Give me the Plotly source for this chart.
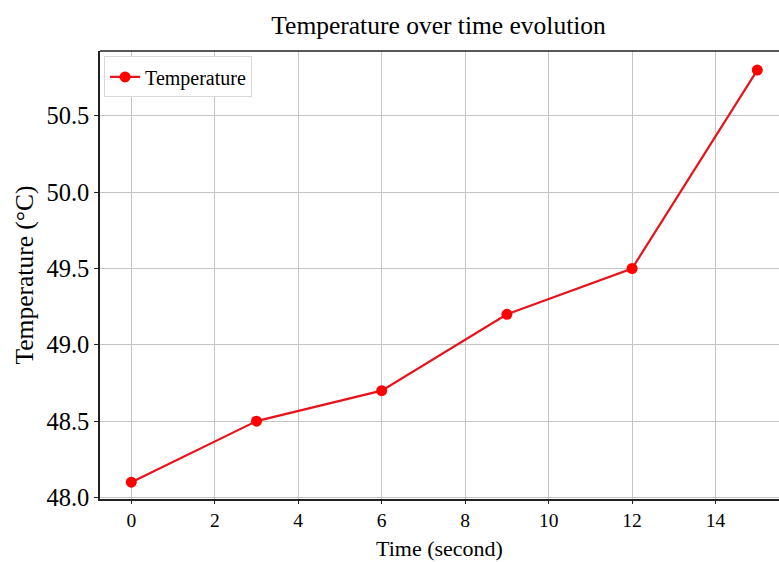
import plotly.graph_objects as go

time_s = [0, 3, 6, 9, 12, 15]
temperature = [48.1, 48.5, 48.7, 49.2, 49.5, 50.8]
x_ticks = [0, 2, 4, 6, 8, 10, 12, 14]
y_ticks = [48.0, 48.5, 49.0, 49.5, 50.0, 50.5]

font_family = "Liberation Serif, Times New Roman, serif"

H = 562
T, B = 51, 63
plot_h = H - T - B

fig = go.Figure()
fig.add_trace(go.Scatter(
    x=time_s, y=temperature, mode="lines+markers", name="Temperature",
    line=dict(color="#e8131a", width=2.2),
    marker=dict(color="#ff0000", size=11),
))

fig.update_layout(
    width=779, height=H,
    margin=dict(l=100, r=0, t=T, b=B),
    paper_bgcolor="white", plot_bgcolor="white",
    font=dict(family=font_family, color="black"),
    title=dict(text="Temperature over time evolution", x=0.563, xanchor="center",
               y=0.955, yanchor="middle", font=dict(size=25.5, family=font_family)),
    showlegend=True,
    legend=dict(x=0.006, y=0.988, xanchor="left", yanchor="top",
                bgcolor="white", bordercolor="#d8d8d8", borderwidth=1,
                font=dict(size=20, family=font_family)),
    xaxis=dict(
        range=[-0.75, 15.52], tickvals=x_ticks, ticktext=[str(v) for v in x_ticks],
        showgrid=True, gridcolor="#c4c4c4", gridwidth=1.2,
        showline=True, linecolor="#222", linewidth=1.5, mirror=False,
        ticks="outside", ticklen=3, tickcolor="#222",
        tickfont=dict(size=19.5, family=font_family), zeroline=False,
    ),
    yaxis=dict(
        range=[47.99, 50.925], tickvals=y_ticks, ticktext=[f"{v:.1f}" for v in y_ticks],
        showgrid=True, gridcolor="#c4c4c4", gridwidth=1.2,
        showline=True, linecolor="#222", linewidth=1.5, mirror=False,
        ticks="outside", ticklen=4, tickcolor="#222",
        tickfont=dict(size=24.5, family=font_family), zeroline=False,
        title=dict(text="Temperature (°C)", font=dict(size=25.5, family=font_family), standoff=6),
    ),
)
# x-axis title
fig.add_annotation(text="Time (second)", xref="paper", yref="paper",
                   x=0.5, y=-B / plot_h, xanchor="center", yanchor="bottom",
                   borderpad=0, showarrow=False, font=dict(size=22, family=font_family))
# top spine
fig.add_shape(type="line", xref="paper", yref="paper", x0=0, x1=1, y0=1, y1=1,
              line=dict(color="#222", width=1.5))

fig.write_html("out.html")
